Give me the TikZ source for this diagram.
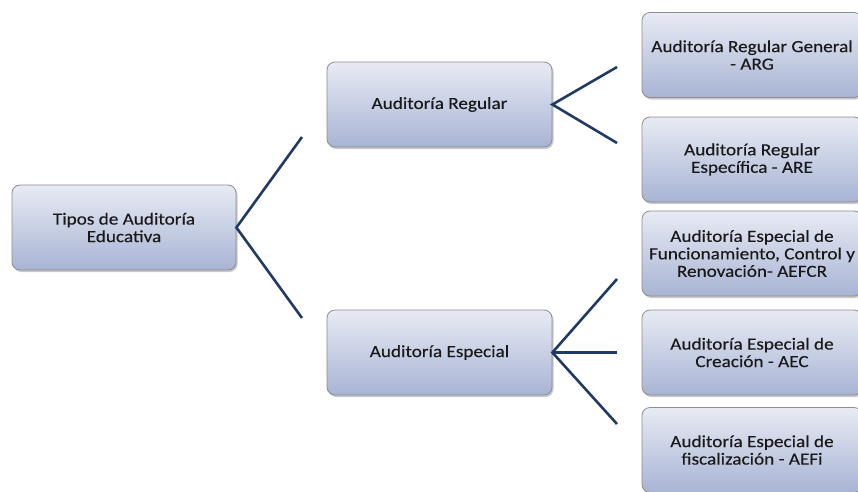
\documentclass[tikz,border=0pt]{standalone}
\usepackage{fontspec}
\setmainfont{Carlito}
\newfontfamily\boxfont[FakeStretch=1.13,FakeBold=0.25]{Carlito}
\usetikzlibrary{shadows}
\definecolor{linec}{RGB}{31,58,102}
\definecolor{topc}{RGB}{232,235,244}
\definecolor{botc}{RGB}{168,180,212}
\definecolor{edgec}{RGB}{140,140,145}
\begin{document}
\begin{tikzpicture}[x=1pt,y=-1pt,
  box/.style={draw=edgec, line width=0.8pt, rounded corners=8pt,
    top color=topc, bottom color=botc, minimum width=224pt, minimum height=85pt,
    align=center, inner sep=2pt, font=\boxfont\fontsize{17}{17.5}\selectfont, text=black!90,
    drop shadow={shadow xshift=1.5pt, shadow yshift=-2pt, opacity=0.35, fill=black!60}},
  conn/.style={draw=linec, line width=2.6pt}]
\useasboundingbox (0,0) rectangle (858,491);
\clip (0,0) rectangle (858,491);
\node[box] (root) at (124,227.5) {Tipos de Auditoría\\Educativa};
\node[box, minimum width=225pt] (reg) at (439.5,104.5) {Auditoría Regular};
\node[box, minimum width=225pt] (esp) at (439.5,352.5) {Auditoría Especial};
\node[box, minimum width=220pt] (arg) at (752,55) {Auditoría Regular General\\- ARG};
\node[box, minimum width=220pt] (are) at (752,159.5) {Auditoría Regular\\Específica - ARE};
\node[box, minimum width=220pt] (aefcr) at (752,253.5) {Auditoría Especial de\\Funcionamiento, Control y\\Renovación- AEFCR};
\node[box, minimum width=220pt] (aec) at (752,352.5) {Auditoría Especial de\\Creación - AEC};
\node[box, minimum width=220pt] (aefi) at (752,450) {Auditoría Especial de\\fiscalización - AEFi};
\coordinate (c1) at (302,137);
\coordinate (c2) at (302,318);
\coordinate (c3) at (617,67);
\coordinate (c4) at (617,143);
\coordinate (c5) at (617,279);
\coordinate (c6) at (617,352.5);
\coordinate (c7) at (617,424);
\draw[conn] (c1) -- (root.east) -- (c2);
\draw[conn] (c3) -- (reg.east) -- (c4);
\draw[conn] (c5) -- (esp.east) -- (c7);
\draw[conn] (esp.east) -- (c6);
\end{tikzpicture}
\end{document}
